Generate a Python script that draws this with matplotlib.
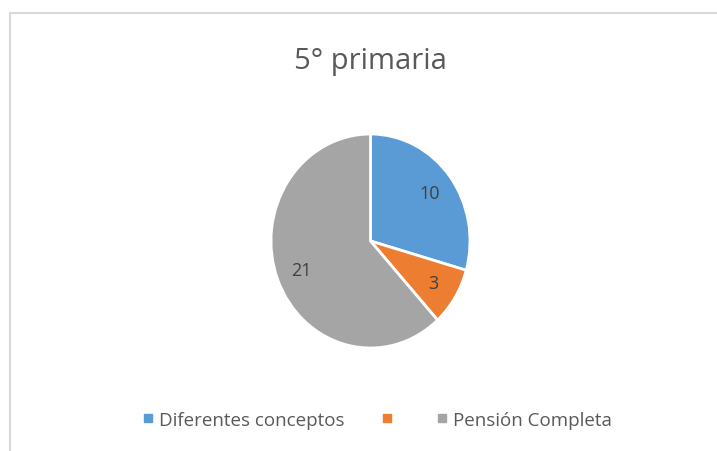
import matplotlib.pyplot as plt
from matplotlib.lines import Line2D

categories = ["Diferentes conceptos", "", "Pensión Completa"]
values = [10, 3, 21]
colors = ["#5B9BD5", "#ED7D31", "#A5A5A5"]
title = "5° primaria"

plt.rcParams["font.family"] = ["Open Sans", "DejaVu Sans"]

fig = plt.figure(figsize=(7.17, 4.52), dpi=100)

# chart area border (left and top edges visible)
fig.add_artist(Line2D([10 / 717, 10 / 717], [0, 1 - 14 / 452], color="#D9D9D9", lw=1.5))
fig.add_artist(Line2D([10 / 717, 1], [1 - 14 / 452, 1 - 14 / 452], color="#D9D9D9", lw=1.5))

# pie is slightly stretched vertically in the reference
ax = fig.add_axes([271 / 717, 1 - 349 / 452, 199 / 717, 214 / 452])
wedges, texts, autotexts = ax.pie(
    values,
    colors=colors,
    startangle=90,
    counterclock=False,
    autopct=lambda p: f"{round(p * sum(values) / 100):d}",
    pctdistance=0.74,
    wedgeprops=dict(edgecolor="white", linewidth=2),
    textprops=dict(color="#404040", fontsize=13),
)
ax.set_xlim(-1, 1)
ax.set_ylim(-1, 1)
ax.set_aspect("auto")

fig.text(370 / 717, 1 - 61 / 452, title, ha="center", va="center",
         fontsize=21, color="#595959")

handles = [Line2D([], [], marker="s", linestyle="none", markersize=6,
                  markerfacecolor=c, markeredgecolor=c) for c in colors]
fig.legend(handles, categories, loc="center", bbox_to_anchor=(376 / 717, 1 - 421 / 452),
           ncol=3, frameon=False, fontsize=13.5, handletextpad=0.2,
           columnspacing=1.9, handlelength=0.8, labelcolor="#595959")

fig.savefig("out.png", dpi=100)
